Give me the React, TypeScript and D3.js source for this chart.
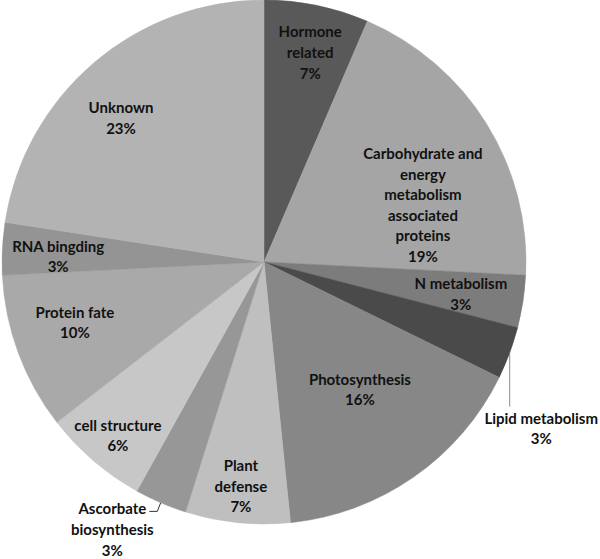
import React, { useEffect, useRef } from 'react';
import * as d3 from 'd3';

// protein counts per functional class (clockwise from 12 o'clock)
const categories = [
  'Hormone related',
  'Carbohydrate and energy metabolism associated proteins',
  'N metabolism',
  'Lipid metabolism',
  'Photosynthesis',
  'Plant defense',
  'Ascorbate biosynthesis',
  'cell structure',
  'Protein fate',
  'RNA bingding',
  'Unknown',
];
const counts = [2, 6, 1, 1, 5, 2, 1, 2, 3, 1, 7];
const percentLabels = ['7%', '19%', '3%', '3%', '16%', '7%', '3%', '6%', '10%', '3%', '23%'];

// how each label is broken into lines
const labelLines = [
  ['Hormone', 'related'],
  ['Carbohydrate and', 'energy', 'metabolism', 'associated', 'proteins'],
  ['N metabolism'],
  ['Lipid metabolism'],
  ['Photosynthesis'],
  ['Plant', 'defense'],
  ['Ascorbate', 'biosynthesis'],
  ['cell structure'],
  ['Protein fate'],
  ['RNA bingding'],
  ['Unknown'],
];

const colors = [
  '#595959', '#a5a5a5', '#7c7c7c', '#4a4a4a', '#878787', '#bfbfbf',
  '#979797', '#c7c7c7', '#a9a9a9', '#949494', '#b3b3b3',
];

// label placement: angle (deg, clockwise from top) and radius as fraction of R
const labelPos = [
  [12.4, 0.821], [70.1, 0.645], [99.1, 0.761], [120.9, 1.233], [142.9, 0.607],
  [185.9, 0.858], [209.6, 1.172], [220.2, 0.864], [252.4, 0.757], [271.7, 0.786],
  [315.3, 0.776],
];

const WIDTH = 600;
const HEIGHT = 559;

const App = () => {
  const svgRef = useRef(null);

  useEffect(() => {
    const cx = 264;
    const cy = 262;
    const R = 262;
    const lineH = 20.6;

    const svg = d3.select(svgRef.current);
    svg.selectAll('*').remove();

    const pie = d3.pie<number>().sort(null).value((d) => d);
    const arcs = pie(counts);
    const arc = d3.arc<any>().innerRadius(0).outerRadius(R);

    const g = svg.append('g').attr('transform', `translate(${cx},${cy})`);

    g.selectAll('path.slice')
      .data(arcs)
      .enter()
      .append('path')
      .attr('class', 'slice')
      .attr('d', arc)
      .attr('fill', (d, i) => colors[i])
      .attr('stroke', (d, i) => colors[i])
      .attr('stroke-width', 0.5);

    const polar = (deg, r) => {
      const a = (deg * Math.PI) / 180;
      return [Math.sin(a) * r, -Math.cos(a) * r];
    };

    // leader lines for the two labels placed outside the pie
    const edgePoint = (i) => {
      const mid = (arcs[i].startAngle + arcs[i].endAngle) / 2;
      return [Math.sin(mid) * R, -Math.cos(mid) * R];
    };

    // Lipid metabolism: straight down from the slice edge
    const lipidIdx = 3;
    const [lx0, ly0] = edgePoint(lipidIdx);
    const [, lLabY] = polar(labelPos[lipidIdx][0], labelPos[lipidIdx][1] * R);
    g.append('path')
      .attr('d', `M${lx0},${ly0}V${lLabY - lineH / 2 - 11}`)
      .attr('fill', 'none')
      .attr('stroke', '#8c8c8c')
      .attr('stroke-width', 1);

    // Ascorbate biosynthesis: elbow from slice edge to the end of the first line
    const ascIdx = 6;
    const [ax0, ay0] = edgePoint(ascIdx);
    const [aLabX, aLabY] = polar(labelPos[ascIdx][0], labelPos[ascIdx][1] * R);
    const aFirst = aLabY - lineH;
    g.append('path')
      .attr('d', `M${ax0},${ay0}L${aLabX + 45},${aFirst + 3}H${aLabX + 37}`)
      .attr('fill', 'none')
      .attr('stroke', '#333')
      .attr('stroke-width', 1);

    const labels = g
      .selectAll('text.lbl')
      .data(arcs)
      .enter()
      .append('text')
      .attr('class', 'lbl')
      .attr('text-anchor', 'middle')
      .attr('font-family', 'Lato, "Open Sans", sans-serif')
      .attr('font-weight', 'bold')
      .attr('font-size', 15)
      .attr('fill', '#111');

    labels.each(function (d, i) {
      const lines = [...labelLines[i], percentLabels[i]];
      const [x, y] = polar(labelPos[i][0], labelPos[i][1] * R);
      const top = y - ((lines.length - 1) * lineH) / 2;
      lines.forEach((t, k) => {
        d3.select(this)
          .append('tspan')
          .attr('x', x)
          .attr('y', top + k * lineH)
          .attr('dominant-baseline', 'central')
          .text(t);
      });
    });
  }, []);

  return (
    <svg
      ref={svgRef}
      width={WIDTH}
      height={HEIGHT}
      style={{ position: 'absolute', left: 0, top: 0, background: '#fff' }}
    />
  );
};

export default App;
